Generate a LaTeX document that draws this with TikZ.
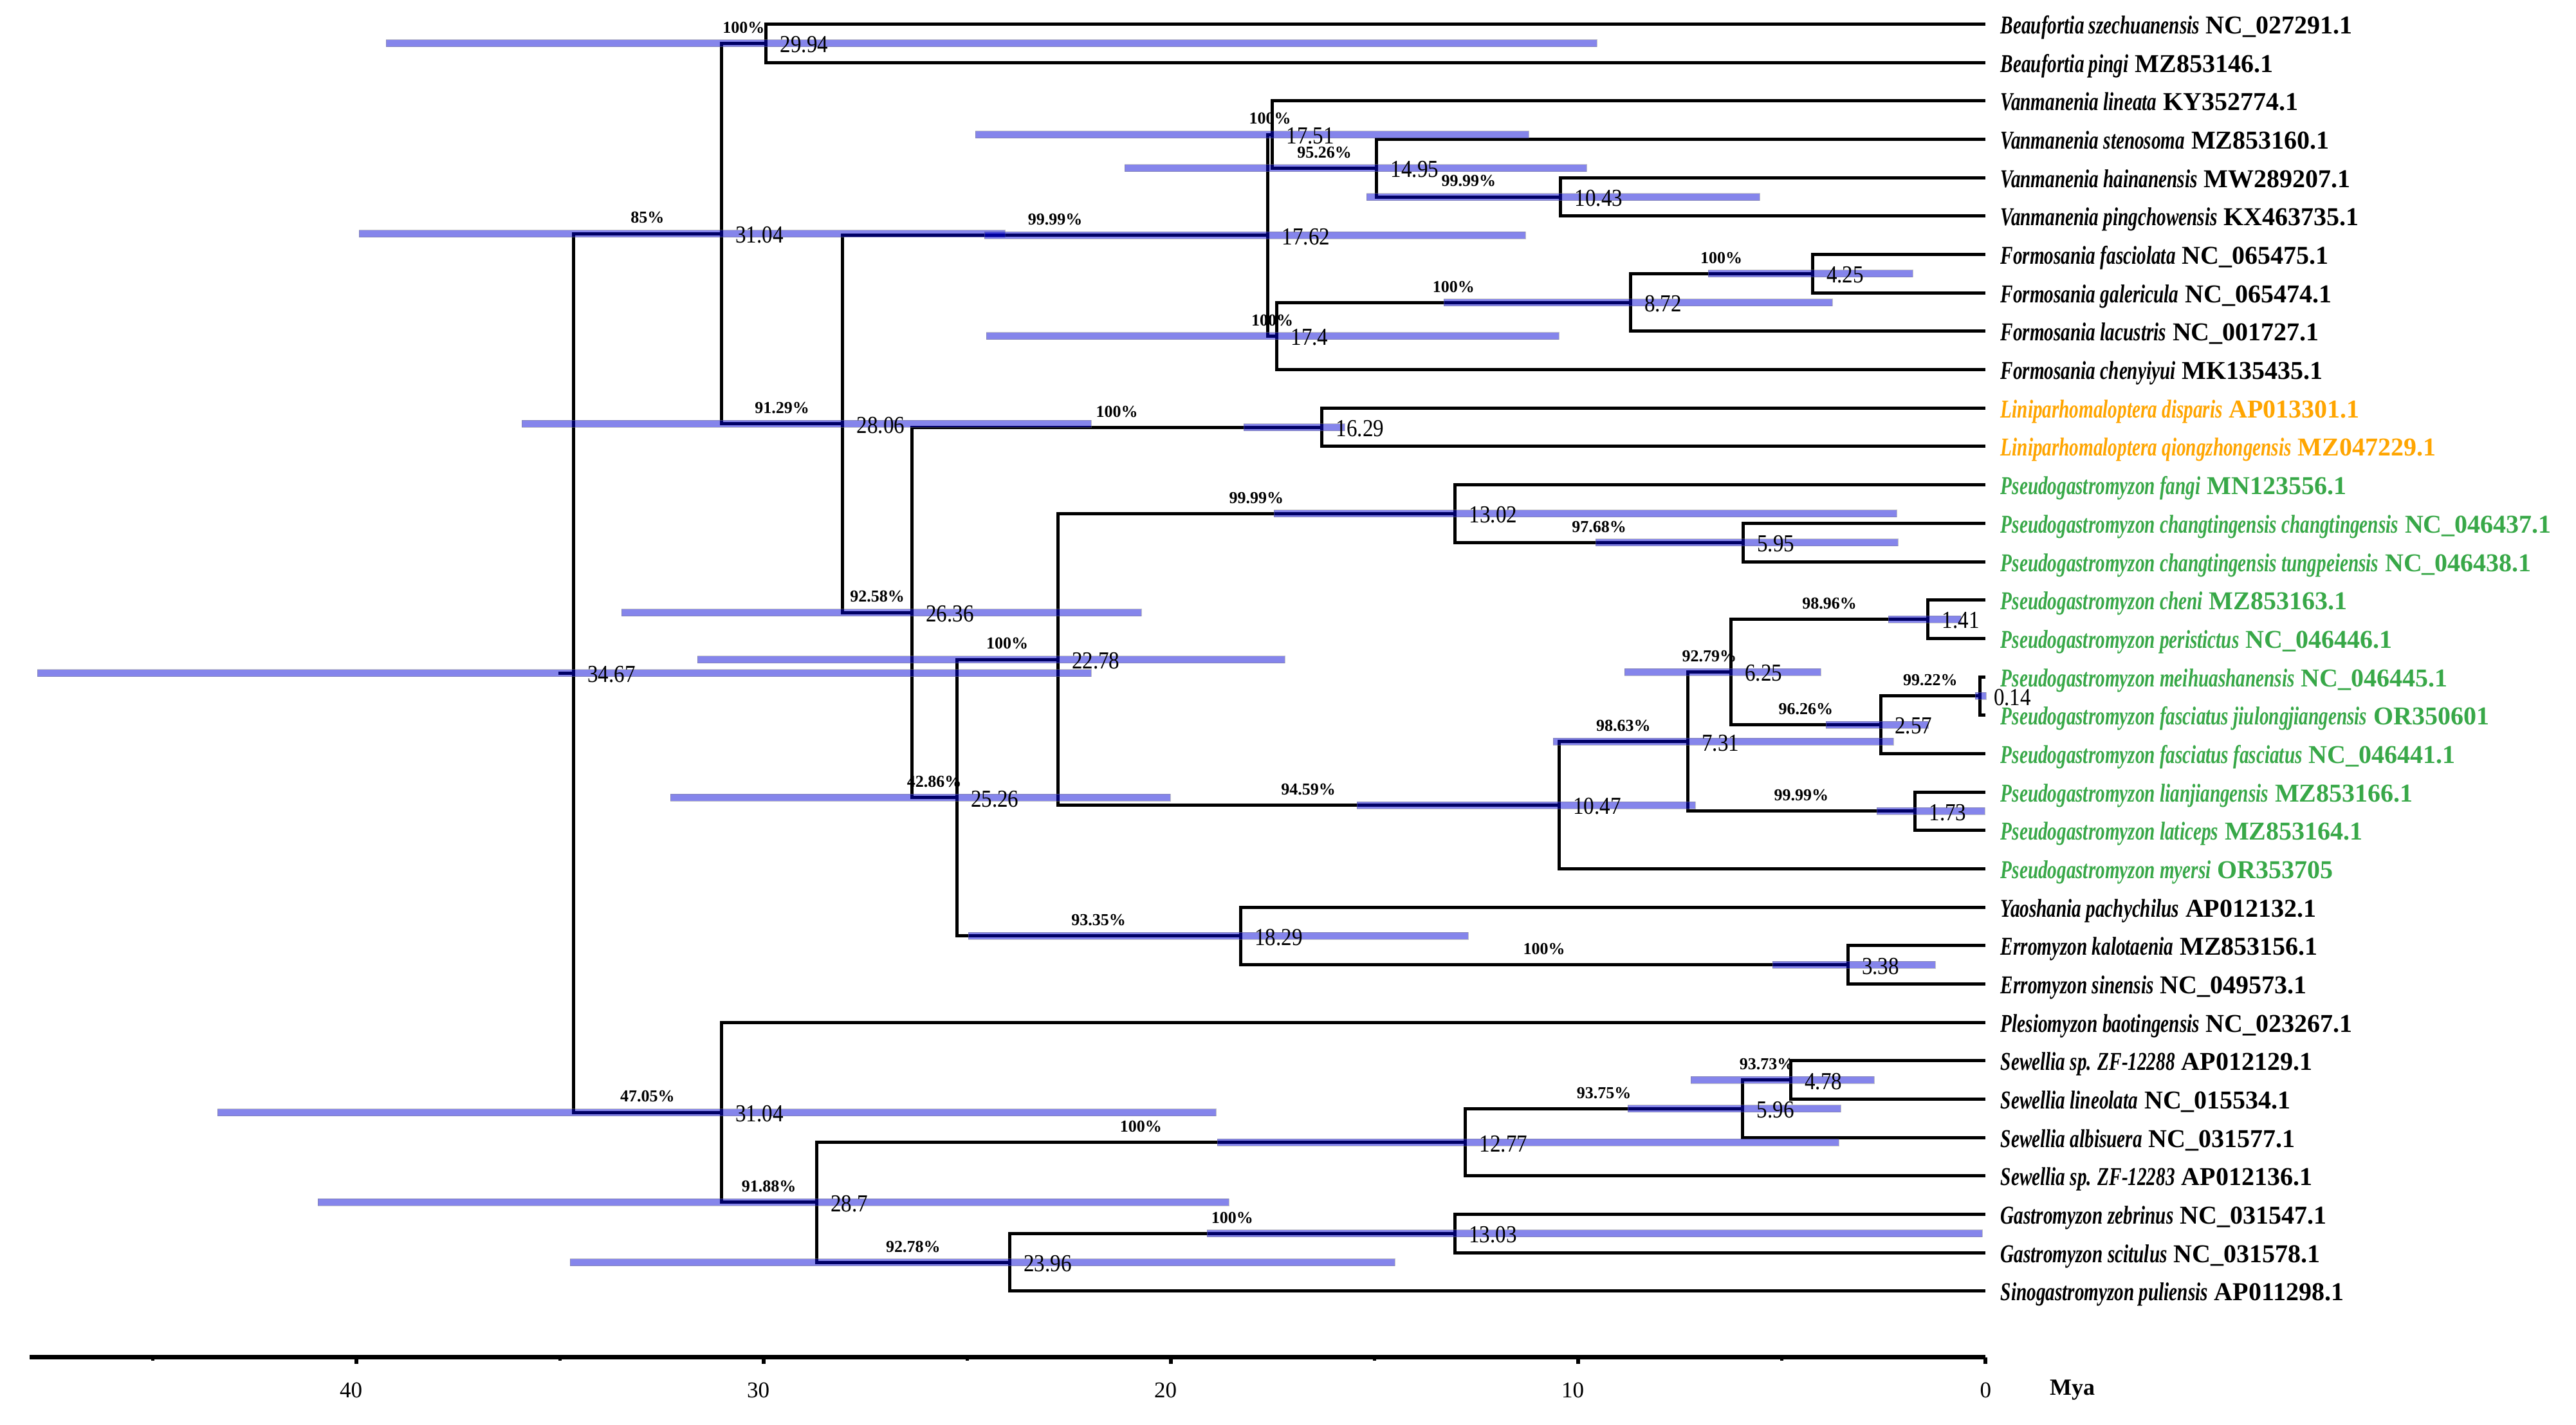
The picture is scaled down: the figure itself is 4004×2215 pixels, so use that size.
\documentclass[tikz,border=0pt]{standalone}
\usepackage{fontspec}
\setmainfont{Liberation Serif}
\newfontfamily\spfont[FakeStretch=0.73]{Liberation Serif}
\newfontfamily\agefont[FakeStretch=0.87]{Liberation Serif}
\usetikzlibrary{calc}
\definecolor{lorange}{RGB}{255,165,0}
\definecolor{pgreen}{RGB}{56,168,72}
\definecolor{hpdblue}{RGB}{0,0,215}
\newcommand\ax[1]{3086-63.3*#1}
\newcommand\taxon[2]{{\spfont\bfseries\itshape #1} #2}
\begin{document}
\begin{tikzpicture}[x=0.25pt,y=-0.25pt,
  br/.style={line width=1.25pt, line join=miter},
  hpd/.style={fill=hpdblue, fill opacity=0.48, draw=gray, draw opacity=0.45, line width=0.25pt},
  tip/.style={anchor=base west, inner sep=0pt, font=\bfseries\fontsize{10pt}{12pt}\selectfont},
  age/.style={anchor=west, inner sep=0pt, xshift=5.3pt, yshift=-0.5pt, font=\agefont\fontsize{9.5pt}{11pt}\selectfont},
  sup/.style={midway, anchor=south, inner sep=0pt, yshift=3.75pt, font=\bfseries\fontsize{6.5pt}{8pt}\selectfont},
  axisline/.style={line width=1.6pt},
  majtick/.style={line width=1.5pt},
  mintick/.style={line width=1.2pt},
  axlab/.style={anchor=east, inner sep=0pt, font=\fontsize{8.75pt}{10pt}\selectfont},
  unitlab/.style={inner sep=0pt, font=\bfseries\fontsize{9pt}{10pt}\selectfont}]
\useasboundingbox (0,0) rectangle (4004,2215);
\fill[white] (0,0) rectangle (4004,2215);

% tips
\foreach \i in {1,...,34} \coordinate (t\i) at (3086,{37.5+(\i-1)*59.68});

% internal nodes (x from age, y midway between children)
\coordinate (n2994)  at ({\ax{29.94}},67.34);
\coordinate (n1043)  at ({\ax{10.43}},306.06);
\coordinate (n1495)  at ({\ax{14.95}},261.3);
\coordinate (n1751)  at ({\ax{17.51}},209.08);
\coordinate (n425)   at ({\ax{4.25}},425.42);
\coordinate (n872)   at ({\ax{8.72}},470.18);
\coordinate (n174)   at ({\ax{17.4}},522.4);
\coordinate (n1762)  at ({\ax{17.62}},365.74);
\coordinate (n1629)  at ({\ax{16.29}},664.14);
\coordinate (n595)   at ({\ax{5.95}},843.18);
\coordinate (n1302)  at ({\ax{13.02}},798.42);
\coordinate (n141)   at ({\ax{1.41}},962.54);
\coordinate (n014)   at ({\ax{0.14}},1081.9);
\coordinate (n257)   at ({\ax{2.57}},1126.66);
\coordinate (n625)   at ({\ax{6.25}},1044.6);
\coordinate (n173)   at ({\ax{1.73}},1260.94);
\coordinate (n731)   at ({\ax{7.31}},1152.77);
\coordinate (n1047)  at ({\ax{10.47}},1251.62);
\coordinate (n2278)  at ({\ax{22.78}},1025.02);
\coordinate (n338)   at ({\ax{3.38}},1499.66);
\coordinate (n1829)  at ({\ax{18.29}},1454.9);
\coordinate (n2526)  at ({\ax{25.26}},1239.96);
\coordinate (n2636)  at ({\ax{26.36}},952.05);
\coordinate (n2806)  at ({\ax{28.06}},658.9);
\coordinate (n3104a) at ({\ax{31.04}},363.12);
\coordinate (n478)   at ({\ax{4.78}},1678.7);
\coordinate (n596)   at ({\ax{5.96}},1723.46);
\coordinate (n1277)  at ({\ax{12.77}},1775.68);
\coordinate (n1303)  at ({\ax{13.03}},1917.42);
\coordinate (n2396)  at ({\ax{23.96}},1962.18);
\coordinate (n287)   at ({\ax{28.7}},1868.93);
\coordinate (n3104b) at ({\ax{31.04}},1729.06);
\coordinate (n3467)  at ({\ax{34.67}},1046.09);
\coordinate (rootstub) at (868,1046.09);

% branches
\foreach \p/\a/\b in {n2994/t1/t2, n1043/t5/t6, n1495/t4/n1043, n1751/t3/n1495,
  n425/t7/t8, n872/n425/t9, n174/n872/t10, n1762/n1751/n174, n1629/t11/t12,
  n595/t14/t15, n1302/t13/n595, n141/t16/t17, n014/t18/t19, n257/n014/t20,
  n625/n141/n257, n173/t21/t22, n731/n625/n173, n1047/n731/t23, n2278/n1302/n1047,
  n338/t25/t26, n1829/t24/n338, n2526/n2278/n1829, n2636/n1629/n2526,
  n2806/n1762/n2636, n3104a/n2994/n2806, n478/t28/t29, n596/n478/t30,
  n1277/n596/t31, n1303/t32/t33, n2396/n1303/t34, n287/n1277/n2396,
  n3104b/t27/n287, n3467/n3104a/n3104b}
  \draw[br] (\a) -| (\p) |- (\b);
\draw[br] (rootstub) -- (n3467);

% 95% HPD bars
\foreach \l/\r/\y in {600/2482/67.34, 558/1562/363.12, 1530/2371/365.74,
  1516/2376/209.08, 1748/2466/261.3, 2124/2735/306.06, 1533/2423/522.4,
  2244/2848/470.18, 2655/2973/425.42, 811/1696/658.9, 1933/2090/664.14,
  966/1774/952.05, 1084/1997/1025.02, 58/1696/1046.09, 1042/1819/1239.96,
  1980/2948/798.42, 2480/2950/843.18, 2109/2635/1251.62, 2414/2943/1152.77,
  2525/2830/1044.6, 2935/3048/962.54, 2838/2997/1126.66, 3070/3087/1081.9,
  2917/3085/1260.94, 1505/2282/1454.9, 2755/3008/1499.66, 338/1890/1729.06,
  494/1910/1868.93, 886/2168/1962.18, 1892/2858/1775.68, 2530/2861/1723.46,
  2628/2913/1678.7, 1876/3081/1917.42}
  \draw[hpd] (\l,{\y-5.5}) rectangle (\r,{\y+5.5});

% support values
\foreach \c/\p/\s in {n2994/n3104a/100, n3104a/n3467/85, n2806/n3104a/91.29,
  n1762/n2806/99.99, n1751/n1762/100, n1495/n1751/95.26, n1043/n1495/99.99,
  n174/n1762/100, n872/n174/100, n425/n872/100, n1629/n2636/100,
  n2636/n2806/92.58, n2526/n2636/42.86, n2278/n2526/100, n1302/n2278/99.99,
  n595/n1302/97.68, n1047/n2278/94.59, n731/n1047/98.63, n625/n731/92.79,
  n141/n625/98.96, n257/n625/96.26, n014/n257/99.22, n173/n731/99.99,
  n1829/n2526/93.35, n338/n1829/100, n3104b/n3467/47.05, n287/n3104b/91.88,
  n2396/n287/92.78, n1277/n287/100, n596/n1277/93.75, n478/n596/93.73,
  n1303/n2396/100}
  \path (\c) -- (\p |- \c) node[sup] {\s\%};

% node ages
\foreach \n/\t in {n2994/29.94, n3104a/31.04, n1762/17.62, n1751/17.51,
  n1495/14.95, n1043/10.43, n174/17.4, n872/8.72, n425/4.25, n2806/28.06,
  n1629/16.29, n2636/26.36, n2278/22.78, n3467/34.67, n2526/25.26,
  n1302/13.02, n595/5.95, n1047/10.47, n731/7.31, n625/6.25, n141/1.41,
  n257/2.57, n014/0.14, n173/1.73, n1829/18.29, n338/3.38, n3104b/31.04,
  n287/28.7, n2396/23.96, n1277/12.77, n596/5.96, n478/4.78, n1303/13.03}
  \node[age] (a\n) at (\n) {\t};

% tip labels
\foreach \i/\c/\sp/\acc in {
  1/black/Beaufortia szechuanensis/NC\_027291.1,
  2/black/Beaufortia pingi/MZ853146.1,
  3/black/Vanmanenia lineata/KY352774.1,
  4/black/Vanmanenia stenosoma/MZ853160.1,
  5/black/Vanmanenia hainanensis/MW289207.1,
  6/black/Vanmanenia pingchowensis/KX463735.1,
  7/black/Formosania fasciolata/NC\_065475.1,
  8/black/Formosania galericula/NC\_065474.1,
  9/black/Formosania lacustris/NC\_001727.1,
  10/black/Formosania chenyiyui/MK135435.1,
  11/lorange/Liniparhomaloptera disparis/AP013301.1,
  12/lorange/Liniparhomaloptera qiongzhongensis/MZ047229.1,
  13/pgreen/Pseudogastromyzon fangi/MN123556.1,
  14/pgreen/Pseudogastromyzon changtingensis changtingensis/NC\_046437.1,
  15/pgreen/Pseudogastromyzon changtingensis tungpeiensis/NC\_046438.1,
  16/pgreen/Pseudogastromyzon cheni/MZ853163.1,
  17/pgreen/Pseudogastromyzon peristictus/NC\_046446.1,
  18/pgreen/Pseudogastromyzon meihuashanensis/NC\_046445.1,
  19/pgreen/Pseudogastromyzon fasciatus jiulongjiangensis/OR350601,
  20/pgreen/Pseudogastromyzon fasciatus fasciatus/NC\_046441.1,
  21/pgreen/Pseudogastromyzon lianjiangensis/MZ853166.1,
  22/pgreen/Pseudogastromyzon laticeps/MZ853164.1,
  23/pgreen/Pseudogastromyzon myersi/OR353705,
  24/black/Yaoshania pachychilus/AP012132.1,
  25/black/Erromyzon kalotaenia/MZ853156.1,
  26/black/Erromyzon sinensis/NC\_049573.1,
  27/black/Plesiomyzon baotingensis/NC\_023267.1,
  28/black/Sewellia sp. ZF-12288/AP012129.1,
  29/black/Sewellia lineolata/NC\_015534.1,
  30/black/Sewellia albisuera/NC\_031577.1,
  31/black/Sewellia sp. ZF-12283/AP012136.1,
  32/black/Gastromyzon zebrinus/NC\_031547.1,
  33/black/Gastromyzon scitulus/NC\_031578.1,
  34/black/Sinogastromyzon puliensis/AP011298.1}
  \node[tip, text=\c] (l\i) at ($(t\i)+(23,15)$) {\taxon{\sp}{\acc}};

% time axis
\coordinate (axL) at (46,2109.5);
\coordinate (axR) at (3086,2109.5);
\draw[axisline] (axL) -- (axR);
\foreach \a in {0,10,20,30,40} {
  \draw[majtick] ({\ax{\a}},2109.5) -- ({\ax{\a}},2120);
  \node[axlab] (tick\a) at ({\ax{\a}+10},2161) {\a};
}
\foreach \a in {5,15,25,35,45}
  \draw[mintick] ({\ax{\a}},2109.5) -- ({\ax{\a}},2115);
\node[unitlab] (mya) at (3221,2161) {Mya};
\end{tikzpicture}
\end{document}
